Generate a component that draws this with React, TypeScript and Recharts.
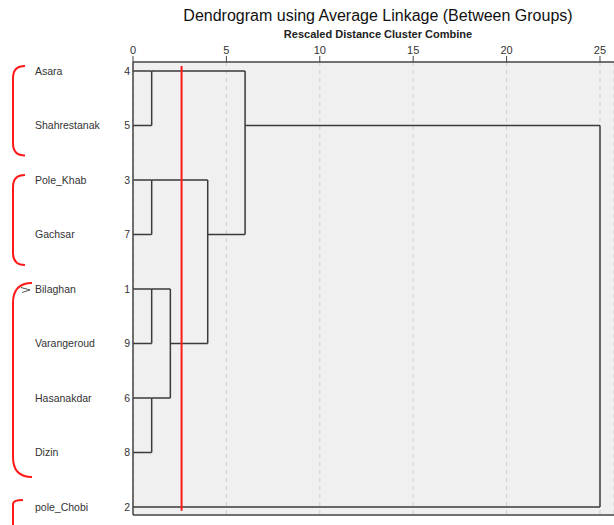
import React from "react";
import {
  ComposedChart,
  XAxis,
  YAxis,
  CartesianGrid,
  ReferenceLine,
  ReferenceArea,
  Scatter,
} from "recharts";

// Leaves in dendrogram order (top to bottom) with their SPSS case numbers.
const leafNames = [
  "Asara",
  "Shahrestanak",
  "Pole_Khab",
  "Gachsar",
  "Bilaghan",
  "Varangeroud",
  "Hasanakdar",
  "Dizin",
  "pole_Chobi",
];
const caseNumbers = [4, 5, 3, 7, 1, 9, 6, 8, 2];

// Agglomeration steps, rescaled distance (0-25).
const merges = [
  { id: "c45", children: ["4", "5"], distance: 1 },
  { id: "c37", children: ["3", "7"], distance: 1 },
  { id: "c19", children: ["1", "9"], distance: 1 },
  { id: "c68", children: ["6", "8"], distance: 1 },
  { id: "c1968", children: ["c19", "c68"], distance: 2 },
  { id: "c37_1968", children: ["c37", "c1968"], distance: 4 },
  { id: "c45_rest", children: ["c45", "c37_1968"], distance: 6 },
  { id: "all", children: ["c45_rest", "2"], distance: 25 },
];

const distanceTicks = [0, 5, 10, 15, 20, 25];
const cutDistance = 2.6;

// Hand-drawn red brackets grouping the leaves (in row units).
const braceRows: [number, number][] = [
  [-0.09, 1.55],
  [1.91, 3.56],
  [3.89, 7.45],
  [7.87, 8.7],
];

const X_MAX = 25.75;
const Y_MIN = -0.165;
const Y_MAX = 8.147;
const LINE = "#3a3a3a";
const FONT = "'Liberation Sans', Arial, sans-serif";

const braceLook = [
  { reach: 12, radius: 12 },
  { reach: 12, radius: 12 },
  { reach: 19, radius: 20 },
  { reach: 10, radius: 4 },
];

type Pt = { x: number; y: number };

function buildSegments(): [Pt, Pt][] {
  const nodes: Record<string, { row: number; dist: number }> = {};
  caseNumbers.forEach((c, i) => {
    nodes[String(c)] = { row: i, dist: 0 };
  });
  const segs: [Pt, Pt][] = [];
  merges.forEach((m) => {
    const [a, b] = m.children.map((k) => nodes[k]);
    segs.push([{ x: a.dist, y: a.row }, { x: m.distance, y: a.row }]);
    segs.push([{ x: b.dist, y: b.row }, { x: m.distance, y: b.row }]);
    segs.push([{ x: m.distance, y: a.row }, { x: m.distance, y: b.row }]);
    // SPSS draws the joined cluster on the row just above the middle
    nodes[m.id] = { row: Math.floor((a.row + b.row) / 2), dist: m.distance };
  });
  return segs;
}

const segments = buildSegments();
const leafPoints = caseNumbers.map((c, i) => ({ x: 0, y: i, c }));

function LeafTick(props: any) {
  const { y, payload } = props;
  const i = payload.value as number;
  if (!Number.isInteger(i) || i < 0 || i >= leafNames.length) return null;
  return (
    <g fontFamily={FONT} fontSize={10.5} fill="#333">
      <text x={35} y={y} dominantBaseline="central">
        {leafNames[i]}
      </text>
      <text x={130} y={y} textAnchor="end" dominantBaseline="central">
        {caseNumbers[i]}
      </text>
      {i === 4 && (
        <path
          d={`M21,${y - 1.5} L30,${y + 1} L22,${y + 3.5}`}
          fill="none"
          stroke="#555"
          strokeWidth={1}
        />
      )}
    </g>
  );
}

function makeBrace(k: number) {
  return (props: any) => {
    const { y, height } = props;
    const { reach, radius } = braceLook[k];
    const left = 13;
    const right = left + reach;
    const top = y;
    const bottom = y + height;
    const d = `M${right},${top} Q${left},${top} ${left},${top + radius} L${left},${bottom - radius} Q${left},${bottom} ${right},${bottom}`;
    return <path d={d} fill="none" stroke="#ff1a1a" strokeWidth={2} />;
  };
}

export default function App() {
  return (
    <div
      style={{
        position: "absolute",
        left: 0,
        top: 0,
        width: 614,
        height: 525,
        background: "#fff",
        fontFamily: FONT,
        overflow: "hidden",
      }}
    >
      <div
        style={{
          position: "absolute",
          left: 0,
          width: 756,
          top: 6,
          textAlign: "center",
          fontSize: 16,
          color: "#111",
          lineHeight: "20px",
        }}
      >
        Dendrogram using Average Linkage (Between Groups)
      </div>
      <div
        style={{
          position: "absolute",
          left: 0,
          width: 756,
          top: 27,
          textAlign: "center",
          fontSize: 11,
          fontWeight: "bold",
          color: "#222",
          lineHeight: "14px",
        }}
      >
        Rescaled Distance Cluster Combine
      </div>
      <ComposedChart
        width={614}
        height={525}
        data={leafPoints}
        margin={{ top: 42, right: 0, bottom: 10, left: 0 }}
      >
        <CartesianGrid
          horizontal={false}
          fill="#f0f0f0"
          fillOpacity={1}
          stroke="#cfcfcf"
          strokeDasharray="4 4"
        />
        <XAxis
          type="number"
          dataKey="x"
          orientation="top"
          domain={[0, X_MAX]}
          ticks={distanceTicks}
          allowDataOverflow
          height={20}
          tickSize={6}
          tick={{ fontSize: 11, fill: "#333", fontFamily: FONT }}
          axisLine={{ stroke: "#444", strokeWidth: 1.5 }}
          tickLine={{ stroke: "#444" }}
        />
        <YAxis
          type="number"
          dataKey="y"
          reversed
          domain={[Y_MIN, Y_MAX]}
          ticks={caseNumbers.map((_, i) => i)}
          interval={0}
          allowDataOverflow
          width={133}
          tickLine={false}
          tick={<LeafTick />}
          axisLine={{ stroke: "#444", strokeWidth: 1.5 }}
        />
        <ReferenceLine
          y={Y_MAX}
          stroke="#444"
          strokeWidth={1.5}
          ifOverflow="visible"
        />
        {segments.map((s, i) => (
          <ReferenceLine
            key={i}
            segment={s}
            stroke={LINE}
            strokeWidth={1.5}
            ifOverflow="visible"
          />
        ))}
        <ReferenceLine
          segment={[
            { x: cutDistance, y: -0.09 },
            { x: cutDistance, y: 8.07 },
          ]}
          stroke="#ff1a1a"
          strokeWidth={2}
          ifOverflow="visible"
        />
        {braceRows.map(([from, to], k) => (
          <ReferenceArea
            key={"b" + k}
            x1={0}
            x2={0.1}
            y1={from}
            y2={to}
            ifOverflow="visible"
            shape={makeBrace(k)}
          />
        ))}
        <Scatter
          data={leafPoints}
          dataKey="y"
          fill="none"
          shape={() => null}
          isAnimationActive={false}
        />
      </ComposedChart>
    </div>
  );
}
